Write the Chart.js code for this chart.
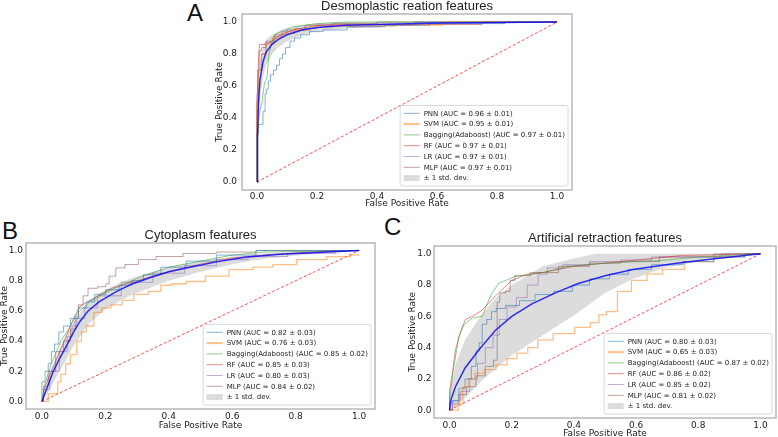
<!DOCTYPE html>
<html>
<head>
<meta charset="utf-8">
<script src="https://cdn.jsdelivr.net/npm/chart.js@4.4.0/dist/chart.umd.min.js"></script>
<style>
  html, body { margin: 0; padding: 0; background: #fff; }
  body { width: 778px; height: 437px; position: relative; overflow: hidden; }
  .panel { position: absolute; }
  .tag { position: absolute; font-family: 'Liberation Sans', Arial, sans-serif; font-size: 24px; line-height: 1; color: #111; }
</style>
</head>
<body>
<div class="tag" style="left:187px; top:1px">A</div>
<div class="tag" style="left:2px; top:219px">B</div>
<div class="tag" style="left:384px; top:215px">C</div>
<div class="panel" style="left:160px; top:0px"><canvas id="chartA" width="420" height="212"></canvas></div>
<div class="panel" style="left:0px; top:215px"><canvas id="chartB" width="385" height="222"></canvas></div>
<div class="panel" style="left:385px; top:215px"><canvas id="chartC" width="393" height="225"></canvas></div>
<script>
document.addEventListener('DOMContentLoaded', function () {

// ---- data ([FPR, TPR] pairs) ----
const MODELS = ['PNN', 'SVM', 'Bagging(Adaboost)', 'RF', 'LR', 'MLP'];
const TICKS = [0, 0.2, 0.4, 0.6, 0.8, 1.0];
const DIAG = [[0, 0], [1, 1]];

// A: Desmoplastic reation features
const A_AUC = ['0.96 ± 0.01', '0.95 ± 0.01', '0.97 ± 0.01', '0.97 ± 0.01', '0.97 ± 0.01', '0.97 ± 0.01'];
const A_PNN = [[0,0],[0,0.30],[0.005,0.30],[0.005,0.36],[0.02,0.36],[0.02,0.44],[0.027,0.44],[0.027,0.55],[0.035,0.58],[0.04,0.63],[0.05,0.67],[0.06,0.70],[0.07,0.73],[0.08,0.77],[0.09,0.80],[0.1,0.84],[0.12,0.88],[0.13,0.90],[0.16,0.92],[0.19,0.94],[0.25,0.95],[0.35,0.97],[0.5,0.98],[0.65,0.99],[1,1]];
const A_SVM = [[0,0],[0,0.5],[0.01,0.7],[0.02,0.8],[0.04,0.86],[0.06,0.9],[0.1,0.93],[0.15,0.95],[0.2,0.97],[0.3,0.975],[0.62,0.98],[0.62,1],[1,1]];
const A_BAG = [[0,0],[0,0.3],[0.01,0.45],[0.017,0.5],[0.025,0.62],[0.033,0.65],[0.04,0.8],[0.05,0.88],[0.06,0.92],[0.08,0.94],[0.12,0.97],[0.2,0.99],[0.3,1],[1,1]];
const A_RF = [[0,0],[0,0.48],[0.005,0.75],[0.008,0.86],[0.03,0.86],[0.05,0.88],[0.08,0.92],[0.12,0.95],[0.2,0.98],[0.3,0.985],[0.75,0.985],[0.75,1],[1,1]];
const A_LR = [[0,0],[0,0.45],[0.01,0.7],[0.02,0.8],[0.04,0.87],[0.07,0.91],[0.1,0.94],[0.15,0.96],[0.25,0.98],[0.37,0.97],[0.45,0.98],[0.6,1],[1,1]];
const A_MLP = [[0,0],[0,0.55],[0.005,0.7],[0.01,0.82],[0.02,0.84],[0.04,0.88],[0.08,0.92],[0.12,0.95],[0.2,0.98],[0.3,0.99],[0.5,1],[1,1]];
const A_MEAN = [[0,0],[0.002,0.3],[0.005,0.5],[0.01,0.64],[0.02,0.75],[0.03,0.81],[0.05,0.86],[0.07,0.89],[0.1,0.92],[0.15,0.95],[0.2,0.965],[0.3,0.98],[0.4,0.985],[0.6,0.993],[0.8,0.997],[1,1]];
const A_UPPER = [[0,0],[0.002,0.4],[0.005,0.62],[0.01,0.76],[0.02,0.85],[0.03,0.89],[0.05,0.92],[0.08,0.95],[0.1,0.96],[0.15,0.98],[0.2,0.99],[0.3,1],[1,1]];
const A_LOWER = [[0,0],[0.002,0.2],[0.005,0.38],[0.01,0.52],[0.02,0.65],[0.03,0.73],[0.05,0.8],[0.07,0.84],[0.1,0.88],[0.15,0.92],[0.2,0.94],[0.3,0.96],[0.4,0.975],[0.6,0.985],[0.8,0.99],[1,1]];

// B: Cytoplasm features
const B_AUC = ['0.82 ± 0.03', '0.76 ± 0.03', '0.85 ± 0.02', '0.85 ± 0.03', '0.80 ± 0.03', '0.84 ± 0.02'];
const B_PNN = [[0,0],[0,0.13],[0.01,0.13],[0.01,0.2],[0.03,0.25],[0.03,0.33],[0.05,0.38],[0.057,0.46],[0.08,0.5],[0.1,0.55],[0.13,0.62],[0.15,0.66],[0.183,0.71],[0.22,0.74],[0.267,0.77],[0.3,0.8],[0.34,0.84],[0.41,0.89],[0.5,0.93],[0.6,0.97],[0.75,1],[1,1]];
const B_SVM = [[0,0],[0.02,0],[0.02,0.05],[0.05,0.05],[0.05,0.13],[0.07,0.18],[0.08,0.25],[0.1,0.31],[0.12,0.4],[0.13,0.46],[0.15,0.5],[0.178,0.59],[0.2,0.62],[0.236,0.64],[0.27,0.67],[0.31,0.71],[0.36,0.73],[0.39,0.77],[0.43,0.78],[0.48,0.795],[0.55,0.83],[0.63,0.873],[0.7,0.89],[0.756,0.907],[0.85,0.94],[0.945,0.96],[1,0.97]];
const B_BAG = [[0,0],[0.01,0.12],[0.03,0.25],[0.06,0.4],[0.09,0.5],[0.11,0.58],[0.15,0.66],[0.2,0.72],[0.26,0.78],[0.33,0.84],[0.4,0.89],[0.5,0.93],[0.6,0.97],[0.7,0.99],[1,1]];
const B_RF = [[0,0],[0.01,0.1],[0.04,0.25],[0.07,0.4],[0.1,0.55],[0.12,0.63],[0.16,0.68],[0.22,0.75],[0.3,0.8],[0.4,0.86],[0.5,0.91],[0.6,0.95],[0.7,0.97],[0.85,0.99],[1,1]];
const B_LR = [[0,0],[0.01,0.08],[0.04,0.2],[0.07,0.33],[0.09,0.43],[0.1,0.5],[0.12,0.55],[0.15,0.62],[0.2,0.7],[0.3,0.79],[0.4,0.85],[0.5,0.9],[0.6,0.94],[0.7,0.96],[0.85,0.98],[1,1]];
const B_MLP = [[0,0],[0.01,0.1],[0.03,0.2],[0.057,0.33],[0.08,0.4],[0.1,0.48],[0.11,0.56],[0.12,0.64],[0.14,0.7],[0.151,0.75],[0.2,0.76],[0.204,0.78],[0.22,0.83],[0.246,0.885],[0.278,0.907],[0.33,0.94],[0.39,0.96],[0.5,0.98],[0.6,0.99],[0.75,1],[1,1]];
const B_MEAN = [[0,0],[0.02,0.11],[0.036,0.2],[0.055,0.28],[0.078,0.37],[0.1,0.46],[0.12,0.53],[0.146,0.6],[0.18,0.66],[0.236,0.73],[0.28,0.775],[0.34,0.82],[0.4,0.86],[0.467,0.89],[0.55,0.925],[0.64,0.955],[0.75,0.975],[0.9,0.99],[1,1]];
const B_UPPER = [[0,0],[0.02,0.16],[0.05,0.32],[0.08,0.45],[0.1,0.53],[0.15,0.67],[0.2,0.74],[0.25,0.79],[0.3,0.83],[0.4,0.89],[0.5,0.93],[0.6,0.96],[0.7,0.98],[0.85,0.995],[1,1]];
const B_LOWER = [[0,0],[0.02,0.06],[0.05,0.18],[0.08,0.29],[0.1,0.37],[0.15,0.52],[0.2,0.61],[0.25,0.67],[0.3,0.72],[0.4,0.8],[0.5,0.86],[0.6,0.91],[0.7,0.945],[0.85,0.975],[1,1]];

// C: Artificial retraction features
const C_AUC = ['0.80 ± 0.03', '0.65 ± 0.03', '0.87 ± 0.02', '0.86 ± 0.02', '0.85 ± 0.02', '0.81 ± 0.02'];
const C_PNN = [[0,0],[0,0.05],[0.02,0.06],[0.04,0.14],[0.06,0.2],[0.08,0.28],[0.09,0.38],[0.1,0.43],[0.11,0.55],[0.13,0.58],[0.14,0.63],[0.16,0.65],[0.2,0.67],[0.25,0.7],[0.3,0.74],[0.37,0.76],[0.42,0.8],[0.48,0.84],[0.55,0.87],[0.6,0.9],[0.7,0.93],[0.8,0.95],[0.9,0.98],[1,1]];
const C_SVM = [[0,0],[0.02,0],[0.035,0.04],[0.05,0.15],[0.07,0.2],[0.094,0.235],[0.13,0.26],[0.169,0.29],[0.2,0.33],[0.233,0.365],[0.27,0.4],[0.297,0.45],[0.37,0.49],[0.436,0.53],[0.47,0.56],[0.49,0.61],[0.52,0.63],[0.56,0.76],[0.61,0.83],[0.66,0.87],[0.71,0.9],[0.8,0.95],[0.9,0.98],[1,1]];
const C_BAG = [[0,0],[0,0.05],[0.005,0.15],[0.014,0.28],[0.03,0.47],[0.046,0.545],[0.073,0.59],[0.105,0.6],[0.121,0.68],[0.137,0.75],[0.158,0.81],[0.21,0.855],[0.3,0.88],[0.38,0.92],[0.5,0.94],[0.6,0.95],[0.7,0.96],[0.8,0.98],[1,1]];
const C_RF = [[0,0],[0,0.12],[0.01,0.25],[0.019,0.385],[0.035,0.5],[0.051,0.58],[0.073,0.6],[0.105,0.64],[0.147,0.73],[0.2,0.83],[0.25,0.87],[0.3,0.88],[0.4,0.92],[0.5,0.94],[0.6,0.96],[0.75,0.99],[1,1]];
const C_LR = [[0,0],[0.02,0.06],[0.05,0.12],[0.08,0.2],[0.1,0.3],[0.13,0.4],[0.15,0.48],[0.17,0.58],[0.2,0.66],[0.23,0.72],[0.27,0.8],[0.3,0.87],[0.33,0.91],[0.4,0.93],[0.5,0.95],[0.6,0.96],[0.7,0.98],[1,1]];
const C_MLP = [[0,0],[0.02,0.04],[0.04,0.1],[0.07,0.15],[0.1,0.22],[0.13,0.28],[0.153,0.32],[0.153,0.69],[0.17,0.75],[0.19,0.76],[0.2,0.83],[0.22,0.86],[0.3,0.88],[0.4,0.92],[0.5,0.94],[0.6,0.95],[0.75,0.98],[1,1]];
const C_MEAN = [[0,0],[0.005,0.07],[0.019,0.15],[0.05,0.27],[0.094,0.385],[0.147,0.51],[0.2,0.6],[0.265,0.68],[0.34,0.75],[0.414,0.81],[0.5,0.86],[0.59,0.9],[0.73,0.94],[0.86,0.97],[1,1]];
const C_UPPER = [[0,0],[0.005,0.15],[0.02,0.3],[0.05,0.45],[0.1,0.6],[0.15,0.72],[0.2,0.8],[0.3,0.92],[0.4,0.97],[0.47,1],[1,1]];
const C_LOWER = [[0,0],[0.02,0.02],[0.05,0.08],[0.1,0.18],[0.15,0.27],[0.2,0.35],[0.3,0.48],[0.41,0.62],[0.5,0.75],[0.59,0.84],[0.69,0.91],[0.83,0.96],[1,1]];

// ---- styling ----
const COLORS = ['rgba(31,119,180,0.55)', 'rgba(255,127,14,0.5)', 'rgba(44,160,44,0.55)',
                'rgba(214,39,40,0.55)', 'rgba(148,103,189,0.55)', 'rgba(140,86,75,0.55)'];
const STEPPED = [true, true, false, false, true, true];
const BAND = 'rgba(140,140,140,0.3)';
const TXT = '#222';
const TICK_FONT = { family: 'DejaVu Sans', size: 9 };
const LABEL_FONT = { family: 'DejaVu Sans', size: 9, lineHeight: 1 };

const pts = arr => arr.map(p => ({ x: p[0], y: p[1] }));

// axes frame, title and matplotlib-like legend
const framePlugin = {
    id: 'frame',
    afterDraw(chart, args, opts) {
        const { ctx, chartArea: a } = chart;
        ctx.save();
        ctx.strokeStyle = '#b8b8b8';
        ctx.lineWidth = 1.5;
        ctx.strokeRect(a.left, a.top, a.right - a.left, a.bottom - a.top);

        ctx.fillStyle = TXT;
        ctx.font = '13px "Liberation Sans", Arial, sans-serif';
        ctx.textAlign = 'center';
        ctx.textBaseline = 'middle';
        ctx.fillText(opts.title, (a.left + a.right) / 2, a.top - 8);

        // legend
        ctx.font = '7px "DejaVu Sans"';
        ctx.textAlign = 'left';
        const labels = opts.labels;
        const pitch = 10.8, pad = 2.5, sample = 16, gap = 4;
        const textW = Math.max(...labels.map(l => ctx.measureText(l).width));
        const w = 3.5 + sample + gap + textW + 3;
        const h = pitch * labels.length + pad * 2;
        const x0 = a.right - 4 - w;
        const y0 = a.bottom - 4 - h;
        ctx.beginPath();
        ctx.roundRect(x0, y0, w, h, 2);
        ctx.fillStyle = 'rgba(255,255,255,0.85)';
        ctx.fill();
        ctx.strokeStyle = '#d8d8d8';
        ctx.lineWidth = 1;
        ctx.stroke();
        labels.forEach((l, i) => {
            const y = y0 + pad + pitch * (i + 0.5);
            if (i < COLORS.length) {
                ctx.strokeStyle = COLORS[i];
                ctx.lineWidth = i === 1 ? 2 : 1;
                ctx.beginPath();
                ctx.moveTo(x0 + 3.5, y);
                ctx.lineTo(x0 + 3.5 + sample, y);
                ctx.stroke();
            } else {
                ctx.fillStyle = BAND;
                ctx.fillRect(x0 + 3.5, y - 3, sample, 6);
            }
            ctx.fillStyle = TXT;
            ctx.fillText(l, x0 + 3.5 + sample + gap, y + 0.5);
        });
        ctx.restore();
    }
};

function makeScale(title, box, tickPad) {
    return {
        type: 'linear', min: -0.05, max: 1.05,
        afterBuildTicks: s => { s.ticks = TICKS.map(v => ({ value: v })); },
        afterFit: s => { if (s.isHorizontal()) s.height = box; else s.width = box; },
        grid: { display: false, drawTicks: false },
        border: { display: false },
        ticks: { font: TICK_FONT, color: TXT, padding: tickPad, maxRotation: 0, callback: v => v.toFixed(1) },
        title: { display: true, text: title, font: LABEL_FONT, color: TXT, padding: 0 }
    };
}

function makePanel(id, title, curves, auc, mean, upper, lower, lay) {
    const datasets = [{
        data: pts(mean), borderColor: 'rgba(0,0,255,0.8)', borderWidth: 1.5
    }];
    curves.forEach((c, i) => datasets.push({
        data: pts(c), borderColor: COLORS[i], borderWidth: i === 1 ? 1.3 : 1,
        stepped: STEPPED[i] ? 'middle' : false
    }));
    datasets.push({ data: pts(DIAG), borderColor: 'rgba(255,0,0,0.7)', borderWidth: 1, borderDash: [3, 2] });
    datasets.push({ data: pts(upper), borderWidth: 0, borderColor: 'rgba(0,0,0,0)', backgroundColor: BAND, fill: '+1' });
    datasets.push({ data: pts(lower), borderWidth: 0, borderColor: 'rgba(0,0,0,0)', fill: false });

    const labels = MODELS.map((m, i) => `${m} (AUC = ${auc[i]})`).concat(['± 1 std. dev.']);

    new Chart(document.getElementById(id), {
        type: 'line',
        data: { datasets },
        options: {
            responsive: false,
            animation: false,
            events: [],
            elements: { point: { radius: 0 }, line: { tension: 0, fill: false } },
            layout: { padding: lay.padding },
            scales: {
                x: makeScale('False Positive Rate', lay.xh, lay.xpad),
                y: makeScale('True Positive Rate', lay.yw, lay.ypad)
            },
            plugins: {
                legend: { display: false },
                tooltip: { enabled: false },
                frame: { title, labels }
            }
        },
        plugins: [framePlugin]
    });
}

makePanel('chartA', 'Desmoplastic reation features',
    [A_PNN, A_SVM, A_BAG, A_RF, A_LR, A_MLP], A_AUC, A_MEAN, A_UPPER, A_LOWER,
    { padding: { left: 55, right: 8, top: 14, bottom: 3.7 }, xh: 18.3, yw: 27, xpad: 1, ypad: 5 });

makePanel('chartB', 'Cytoplasm features',
    [B_PNN, B_SVM, B_BAG, B_RF, B_LR, B_MLP], B_AUC, B_MEAN, B_UPPER, B_LOWER,
    { padding: { left: 0, right: 10, top: 28, bottom: 7 }, xh: 21, yw: 26, xpad: 2, ypad: 3 });

makePanel('chartC', 'Artificial retraction features',
    [C_PNN, C_SVM, C_BAG, C_RF, C_LR, C_MLP], C_AUC, C_MEAN, C_UPPER, C_LOWER,
    { padding: { left: 23.3, right: 2, top: 31, bottom: 1.7 }, xh: 20.3, yw: 25.7, xpad: 2, ypad: 2.5 });

});
</script>
</body>
</html>
